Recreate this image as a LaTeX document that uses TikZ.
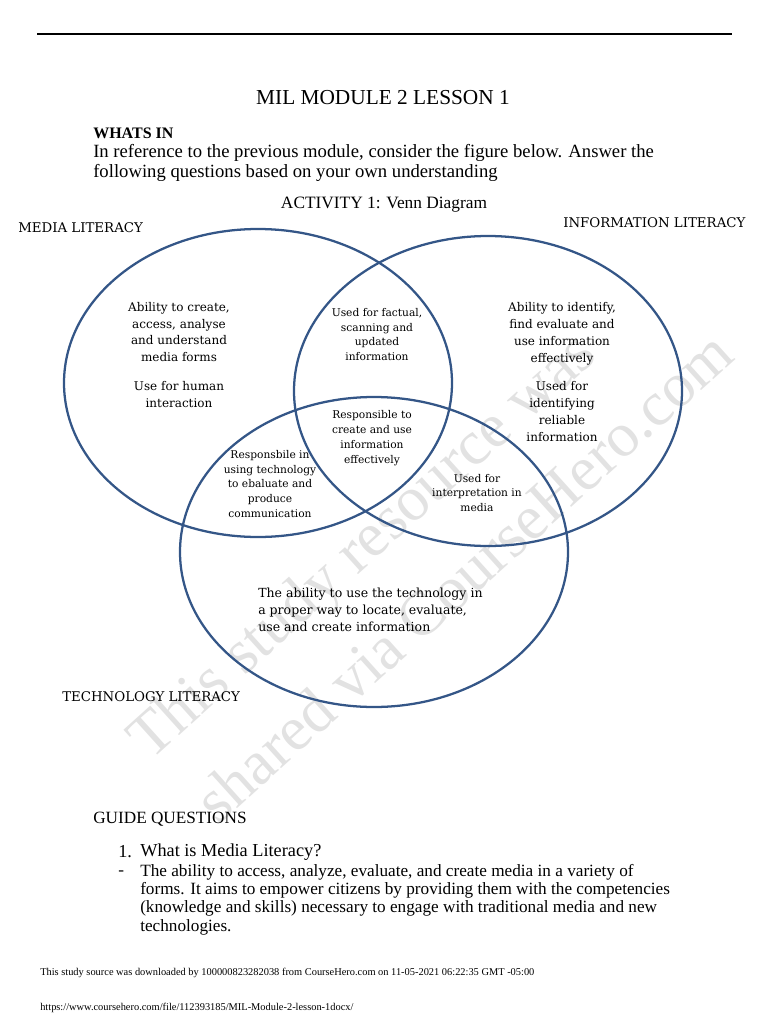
\documentclass[tikz,border=0pt]{standalone}
\usepackage{fontspec}
\setmainfont{Liberation Serif}
\newfontfamily\bookfont{DejaVu Serif}
\usetikzlibrary{positioning}
\definecolor{vennblue}{RGB}{52,86,135}
\definecolor{wmgray}{RGB}{226,226,226}

\begin{document}
\begin{tikzpicture}[x=0.75pt, y=-0.75pt,
    venn/.style={draw=vennblue, line width=1.7pt},
    lbl/.style={inner sep=0pt, anchor=west, font=\bookfont\fontsize{10}{12}\selectfont},
    big/.style={align=center, inner sep=0pt, font=\bookfont\fontsize{9}{12.6}\selectfont},
    small/.style={align=center, inner sep=0pt, font=\bookfont\fontsize{8}{11.2}\selectfont},
    txt/.style={inner sep=0pt, anchor=west},
    wm/.style={wmgray, inner sep=0pt, anchor=base west, rotate=42,
               font=\fontsize{47}{50}\selectfont}]
  \useasboundingbox (0,0) rectangle (768,1024);
  % watermark
  \node[wm] (wm1) at (150,762) {This study resource was};
  \node[wm] (wm2) at (218,826) {shared via CourseHero.com};
  % header
  \coordinate (rl) at (37,34);
  \coordinate (rr) at (732,34);
  \draw[line width=0.8pt] (rl) -- (rr);
  \node[txt, anchor=center, font=\fontsize{16}{19}\selectfont] (title) at (383,98) {MIL MODULE 2 LESSON 1};
  \node[txt, font=\bfseries\fontsize{12}{14}\selectfont] (whats) at (93,133) {WHATS IN};
  \node[txt, font=\fontsize{14}{16}\selectfont] (intro1) at (93,153)
    {In reference to the previous module, consider the figure below. Answer the};
  \node[txt, font=\fontsize{14}{16}\selectfont] (intro2) at (93,173)
    {following questions based on your own understanding};
  \node[txt, anchor=center, font=\fontsize{13}{16}\selectfont] (act) at (384,205) {ACTIVITY 1: Venn Diagram};

  % the three circles
  \draw[venn] (258,383) ellipse [x radius=194, y radius=154];
  \draw[venn] (488,391) ellipse [x radius=194, y radius=155];
  \draw[venn] (374,552) ellipse [x radius=194, y radius=155];
  \node[lbl] (mlit) at (18,228) {MEDIA LITERACY};
  \node[lbl] (ilit) at (563,223) {INFORMATION LITERACY};
  \node[lbl] (tlit) at (62,697) {TECHNOLOGY LITERACY};

  \node[big] (m1) at (179,332) {Ability to create,\\ access, analyse\\ and understand\\ media forms};
  \node[big] (m2) at (179,394.5) {Use for human\\ interaction};
  \node[small] (mi) at (377,334.5) {Used for factual,\\ scanning and\\ updated\\ information};
  \node[big, font=\bookfont\fontsize{9}{12.75}\selectfont] (i1) at (562,333.5)
    {Ability to identify,\\ find evaluate and\\ use information\\ effectively};
  \node[big, font=\bookfont\fontsize{9}{12.75}\selectfont] (i2) at (562,412)
    {Used for\\ identifying\\ reliable\\ information};
  \node[small] (mit) at (372,438) {Responsible to\\ create and use\\ information\\ effectively};
  \node[small] (mt) at (270,484) {Responsbile in\\ using technology\\ to ebaluate and\\ produce\\ communication};
  \node[small] (it) at (477,493) {Used for\\ interpretation in\\ media};
  \node[big, align=left, anchor=west, font=\bookfont\fontsize{9.4}{12.75}\selectfont] (t1) at (258,610)
    {The ability to use the technology in\\ a proper way to locate, evaluate,\\ use and create information};

  % questions
  \node[txt, font=\fontsize{12.9}{14}\selectfont] (guide) at (93,819) {GUIDE QUESTIONS};
  \node[txt, font=\fontsize{13.7}{16}\selectfont] (qnum) at (118,852) {1.};
  \node[txt, font=\fontsize{13.7}{16}\selectfont] (q1) at (140,852) {What is Media Literacy?};
  \node[txt, font=\fontsize{12.9}{13.7}\selectfont] (dash) at (118,873) {-};
  \node[txt, align=left, font=\fontsize{12.9}{13.7}\selectfont] (ans) at (140,899.5)
    {The ability to access, analyze, evaluate, and create media in a variety of\\
     forms. It aims to empower citizens by providing them with the competencies\\
     (knowledge and skills) necessary to engage with traditional media and new\\
     technologies.};
  \node[txt, font=\fontsize{7.8}{10}\selectfont] (src) at (40,973)
    {This study source was downloaded by 100000823282038 from CourseHero.com on 11-05-2021 06:22:35 GMT -05:00};
  \node[txt, font=\fontsize{7.8}{10}\selectfont] (url) at (40,1008)
    {https://www.coursehero.com/file/112393185/MIL-Module-2-lesson-1docx/};
\end{tikzpicture}
\end{document}
